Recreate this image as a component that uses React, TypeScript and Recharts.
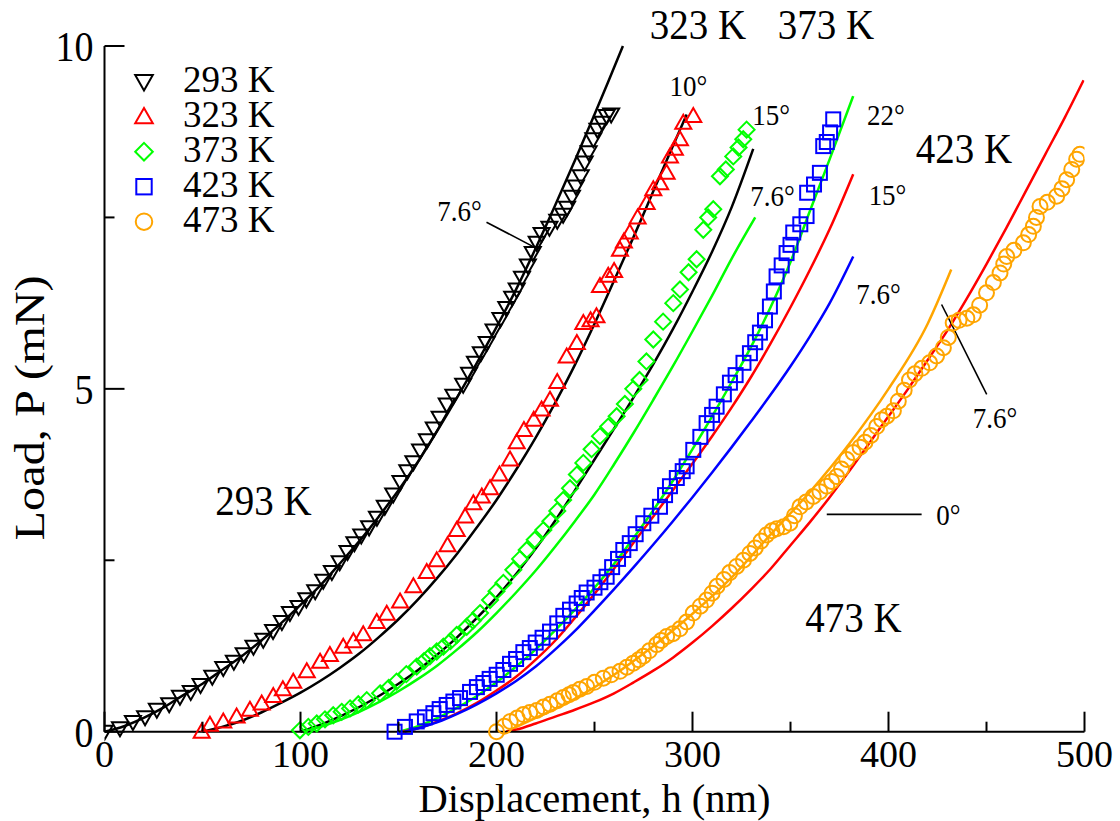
import React from "react";
import {
  ComposedChart,
  Line,
  Scatter,
  XAxis,
  YAxis,
  ReferenceDot,
  ReferenceLine,
  Legend,
} from "recharts";

const FONT = '"Liberation Serif", "Times New Roman", Times, serif';
// the original figure's lettering is a little taller than it is wide
const STRETCH = 1.1;

// [displacement h (nm), load P (mN)]
const tri293: [number, number][] = [
  [0, 0], [7.9, 0.05], [14.5, 0.14], [20.7, 0.21], [26.7, 0.32], [33, 0.4], [38.5, 0.51],
  [44, 0.58], [49, 0.68], [55, 0.8], [60.6, 0.93], [66, 1.02], [71, 1.13], [76, 1.24],
  [81, 1.34], [86, 1.47], [90.5, 1.6], [94.6, 1.73], [99, 1.82], [103, 1.93], [107.5, 2.05],
  [111.6, 2.2], [116, 2.33], [120, 2.47], [124, 2.62], [127.5, 2.75], [131, 2.86], [135, 2.98],
  [139, 3.12], [143, 3.28], [147.3, 3.46], [151, 3.64], [154.5, 3.8], [157.6, 3.93], [161, 4.1],
  [164.5, 4.25], [168, 4.42], [171, 4.58], [174.6, 4.77], [178, 4.9], [183, 5.06], [186, 5.22],
  [189, 5.38], [192, 5.52], [195, 5.67], [198.5, 5.85], [202, 6.02], [205, 6.18], [208, 6.33],
  [210.3, 6.45], [213, 6.62], [216, 6.8], [218.5, 6.98], [220.5, 7.13], [223, 7.26], [227, 7.35],
  [231, 7.45], [234, 7.54], [236, 7.64], [238.5, 7.8], [240.5, 7.95], [243, 8.1], [245, 8.3],
  [247, 8.45], [249.4, 8.64], [251.5, 8.78], [254, 8.88], [256.2, 8.98], [258.5, 9.0],
];
const fit293: [number, number][] = [
  [0, 0], [10, 0.08], [20, 0.2], [30, 0.35], [40, 0.53], [50, 0.7], [60, 0.9], [70, 1.1],
  [80, 1.33], [90, 1.58], [100, 1.85], [110, 2.13], [120, 2.45], [130, 2.78], [140, 3.14],
  [150, 3.52], [160, 3.94], [170, 4.4], [180, 4.88], [190, 5.38], [200, 5.9], [210, 6.45],
  [220, 7.05], [230, 7.68], [240, 8.33], [250, 9.0], [257, 9.48], [264.5, 10.0],
];

const tri323: [number, number][] = [
  [49.6, 0], [53.8, 0.1], [60.6, 0.15], [67.4, 0.22], [74.2, 0.32], [80.2, 0.41], [86.1, 0.52],
  [91, 0.62], [96.3, 0.73], [103.2, 0.88], [110, 1.02], [115, 1.12], [121.8, 1.24], [127, 1.32],
  [132, 1.42], [138.9, 1.6], [144, 1.72], [150.8, 1.9], [157.6, 2.12], [164.4, 2.33], [169.5, 2.5],
  [175, 2.72], [179.7, 2.94], [184, 3.14], [188.2, 3.33], [192.5, 3.43], [196.7, 3.55],
  [201.5, 3.75], [206.9, 3.97], [210.3, 4.22], [214, 4.4], [219, 4.55], [223, 4.7], [227.3, 4.84],
  [231, 5.1], [235.8, 5.47], [241, 5.67], [244.3, 5.96], [248, 6.0], [251, 6.06], [252.8, 6.5],
  [257, 6.65], [260, 6.72], [263, 7.03], [265, 7.15], [268, 7.28], [272, 7.5], [276.6, 7.71],
  [280, 7.91], [283.5, 8.0], [286.8, 8.15], [288.5, 8.39], [291, 8.5], [293.6, 8.64],
  [295.3, 8.88], [300.4, 8.98],
];
const fit323: [number, number][] = [
  [50, 0], [60, 0.07], [70, 0.16], [80, 0.28], [90, 0.42], [100, 0.57], [110, 0.74], [120, 0.93],
  [130, 1.14], [140, 1.38], [150, 1.64], [160, 1.93], [170, 2.25], [180, 2.6], [190, 2.98],
  [200, 3.38], [210, 3.82], [220, 4.29], [230, 4.8], [240, 5.35], [250, 5.95], [260, 6.58],
  [270, 7.22], [280, 7.88], [290, 8.54], [297, 9.0],
];

const dia373: [number, number][] = [
  [99.7, 0.02], [104, 0.07], [108.3, 0.12], [112.5, 0.18], [116.7, 0.24], [121, 0.29],
  [125.3, 0.34], [129.5, 0.4], [133.8, 0.46], [140.6, 0.56], [145, 0.64], [149, 0.73], [154, 0.84],
  [159.3, 0.95], [163, 1.03], [166, 1.1], [169.5, 1.17], [172.9, 1.24], [176.5, 1.32],
  [179.7, 1.41], [184.8, 1.53], [188, 1.62], [191.6, 1.73], [196.7, 1.92], [200, 2.05],
  [203.5, 2.17], [208.6, 2.36], [212, 2.52], [215.4, 2.65], [219.5, 2.8], [223.9, 2.94],
  [227.5, 3.07], [231, 3.22], [234, 3.38], [237.5, 3.55], [241, 3.75], [244.3, 3.92],
  [248.5, 4.12], [252.8, 4.31], [257, 4.45], [261.3, 4.6], [265.5, 4.78], [269.8, 5.0],
  [273, 5.13], [276.5, 5.4], [280, 5.72], [285, 5.98], [290.2, 6.25], [293.6, 6.45], [298, 6.7],
  [302.1, 6.89], [305.5, 7.32], [308, 7.5], [310.6, 7.62], [314, 8.1], [317, 8.2], [320.8, 8.39],
  [323.5, 8.52], [325.9, 8.64], [327.6, 8.78],
];
const fit373Black: [number, number][] = [
  [100, 0], [110, 0.1], [120, 0.22], [130, 0.36], [140, 0.52], [150, 0.7], [160, 0.9],
  [170, 1.13], [180, 1.38], [190, 1.66], [200, 1.96], [210, 2.3], [220, 2.67], [230, 3.08],
  [240, 3.52], [250, 3.97], [260, 4.42], [270, 4.88], [280, 5.36], [290, 5.87], [300, 6.42],
  [310, 7.0], [320, 7.65], [331, 8.5],
];
const fit373Green: [number, number][] = [
  [101, 0], [110, 0.07], [120, 0.17], [130, 0.29], [140, 0.43], [150, 0.59], [160, 0.77],
  [170, 0.97], [180, 1.2], [190, 1.45], [200, 1.73], [210, 2.03], [220, 2.35], [230, 2.7],
  [240, 3.07], [250, 3.46], [260, 3.9], [270, 4.36], [280, 4.84], [290, 5.33], [300, 5.84],
  [310, 6.36], [320, 6.9], [332, 7.5],
];

const sq423: [number, number][] = [
  [148, 0], [153.3, 0.07], [159.3, 0.15], [163.5, 0.21], [167.8, 0.27], [171, 0.33], [174.6, 0.39],
  [178, 0.44], [181.4, 0.49], [186.5, 0.58], [190, 0.65], [193.3, 0.71], [196.5, 0.77],
  [200.1, 0.83], [203.5, 0.9], [206.9, 0.99], [210, 1.06], [213.7, 1.16], [217, 1.22], [220, 1.3],
  [223.5, 1.37], [227.3, 1.46], [231, 1.58], [234.1, 1.69], [237.5, 1.78], [240.9, 1.87],
  [243.5, 1.95], [246, 2.03], [250, 2.1], [253, 2.18], [256.2, 2.26], [259, 2.4], [262, 2.52],
  [264.7, 2.65], [268, 2.75], [271, 2.88], [274.9, 3.04], [279, 3.15], [283.4, 3.28], [286, 3.45],
  [288.5, 3.58], [292, 3.7], [295, 3.8], [297, 3.87], [300.4, 4.11], [304, 4.3], [307.2, 4.5],
  [310, 4.62], [312.3, 4.74], [316, 4.92], [319.1, 5.09], [322, 5.2], [326, 5.38], [329.3, 5.52],
  [332, 5.68], [334.4, 5.82], [337, 6.0], [339.5, 6.2], [341.5, 6.42], [342.9, 6.64],
  [345.5, 6.8], [348, 6.98], [350, 7.1], [351.4, 7.28], [355, 7.4], [358.2, 7.52], [358.5, 7.86],
  [362, 7.98], [365, 8.15], [366.7, 8.54], [368.5, 8.6], [370.2, 8.74], [371.8, 8.93],
];
const fit423Green: [number, number][] = [
  [150, 0], [160, 0.08], [170, 0.2], [180, 0.35], [190, 0.52], [200, 0.72], [210, 0.95],
  [220, 1.2], [230, 1.48], [240, 1.78], [250, 2.1], [260, 2.45], [270, 2.83], [280, 3.23],
  [290, 3.66], [300, 4.12], [310, 4.6], [320, 5.1], [330, 5.62], [340, 6.2], [350, 6.85],
  [360, 7.6], [370, 8.35], [382, 9.27],
];
const fit423Red: [number, number][] = [
  [152, 0], [160, 0.05], [170, 0.15], [180, 0.27], [190, 0.42], [200, 0.6], [210, 0.8],
  [220, 1.05], [230, 1.33], [240, 1.66], [250, 2.01], [260, 2.38], [270, 2.76], [280, 3.14],
  [290, 3.52], [300, 3.91], [310, 4.31], [320, 4.73], [330, 5.18], [340, 5.67], [350, 6.19],
  [360, 6.74], [370, 7.33], [382, 8.13],
];
const fit423Blue: [number, number][] = [
  [153, 0], [160, 0.05], [170, 0.14], [180, 0.26], [190, 0.4], [200, 0.56], [210, 0.74],
  [220, 0.95], [230, 1.2], [240, 1.47], [250, 1.77], [260, 2.08], [270, 2.4], [280, 2.73],
  [290, 3.07], [300, 3.42], [310, 3.78], [320, 4.15], [330, 4.53], [340, 4.92], [350, 5.33],
  [360, 5.77], [370, 6.25], [382, 6.93],
];

const circ473: [number, number][] = [
  [200, 0], [204, 0.08], [207, 0.15], [210.5, 0.2], [213.7, 0.25], [217, 0.28], [220.5, 0.31],
  [224, 0.36], [227.3, 0.4], [231, 0.45], [234.1, 0.5], [237, 0.54], [239.2, 0.57], [242.5, 0.62],
  [246, 0.66], [250, 0.72], [254.5, 0.78], [258.5, 0.83], [263, 0.88], [266.5, 0.94],
  [269.8, 1.0], [272.5, 1.05], [274.9, 1.1], [278, 1.18], [281.7, 1.27], [284, 1.33],
  [286.8, 1.39], [290, 1.43], [293.6, 1.5], [297, 1.6], [300.4, 1.73], [304, 1.83], [307.2, 1.92],
  [310, 2.02], [312.5, 2.12], [316, 2.22], [319, 2.32], [322.5, 2.41], [326, 2.5], [329.3, 2.6],
  [332, 2.68], [335, 2.78], [337.8, 2.87], [340.5, 2.93], [343, 2.96], [346.5, 2.99],
  [349.7, 3.04], [352, 3.15], [354.8, 3.28], [358, 3.35], [361.6, 3.43], [365, 3.5], [368.5, 3.58],
  [371, 3.65], [373.6, 3.72], [376, 3.83], [378.7, 3.97], [382, 4.07], [385.5, 4.15], [388, 4.22],
  [391, 4.32], [394, 4.45], [396.5, 4.55], [399.1, 4.6], [402.5, 4.68], [405, 4.82], [408, 4.98],
  [410.7, 5.13], [413.5, 5.22], [417, 5.3], [421, 5.38], [424.5, 5.48], [428, 5.6], [430.5, 5.75],
  [433, 5.96], [436, 6.0], [440, 6.03], [443.3, 6.08], [446.5, 6.22], [450, 6.4], [453.5, 6.55],
  [456.9, 6.69], [458.8, 6.82], [460.3, 6.93], [464, 7.02], [468.8, 7.13], [471.5, 7.25],
  [473.9, 7.37], [475.5, 7.5], [477.3, 7.66], [481, 7.72], [485.8, 7.81], [488.5, 7.92],
  [490.9, 8.05], [493.5, 8.2], [496, 8.35], [497.7, 8.42],
];
const fit473Red: [number, number][] = [
  [205, 0], [210, 0.03], [220, 0.12], [230, 0.22], [240, 0.32], [250, 0.43], [260, 0.56],
  [270, 0.72], [280, 0.89], [290, 1.08], [300, 1.3], [310, 1.54], [320, 1.8], [330, 2.08],
  [340, 2.38], [350, 2.72], [360, 3.06], [370, 3.42], [380, 3.8], [390, 4.2], [400, 4.6],
  [410, 5.0], [420, 5.42], [430, 5.85], [440, 6.32], [450, 6.82], [460, 7.34], [470, 7.88],
  [480, 8.42], [490, 8.96], [499.5, 9.5],
];
const fit473Orange: [number, number][] = [
  [205, 0], [220, 0.2], [240, 0.48], [260, 0.83], [280, 1.25], [300, 1.72], [320, 2.25],
  [340, 2.88], [360, 3.5], [380, 4.2], [400, 5.0], [420, 5.95], [432, 6.74],
];

const xTicks = [0, 50, 100, 150, 200, 250, 300, 350, 400, 450, 500];
const xLabelled = [0, 100, 200, 300, 400, 500];
const yTicks = [0, 2.5, 5, 7.5, 10];
const yLabelled = [0, 5, 10];

const BLACK = "#000000";
const RED = "#ff0000";
const GREEN = "#00ff00";
const BLUE = "#0000ff";
const ORANGE = "#ffa500";

type Kind = "down" | "up" | "diamond" | "square" | "circle";

const markerSeries: { name: string; color: string; kind: Kind; pts: [number, number][] }[] = [
  { name: "293 K", color: BLACK, kind: "down", pts: tri293 },
  { name: "323 K", color: RED, kind: "up", pts: tri323 },
  { name: "373 K", color: GREEN, kind: "diamond", pts: dia373 },
  { name: "423 K", color: BLUE, kind: "square", pts: sq423 },
  { name: "473 K", color: ORANGE, kind: "circle", pts: circ473 },
];

const fitLines: { id: string; color: string; pts: [number, number][] }[] = [
  { id: "f293", color: BLACK, pts: fit293 },
  { id: "f323", color: BLACK, pts: fit323 },
  { id: "f373k", color: BLACK, pts: fit373Black },
  { id: "f373g", color: GREEN, pts: fit373Green },
  { id: "f423g", color: GREEN, pts: fit423Green },
  { id: "f423r", color: RED, pts: fit423Red },
  { id: "f423b", color: BLUE, pts: fit423Blue },
  { id: "f473o", color: ORANGE, pts: fit473Orange },
  { id: "f473r", color: RED, pts: fit473Red },
];

const bigLabels: { text: string; h: number; P: number }[] = [
  { text: "293 K", h: 81.1, P: 3.37 },
  { text: "323 K", h: 302.8, P: 10.32 },
  { text: "373 K", h: 368.1, P: 10.32 },
  { text: "423 K", h: 438.5, P: 8.51 },
  { text: "473 K", h: 382.1, P: 1.66 },
];

const angleLabels: { text: string; h: number; P: number }[] = [
  { text: "10°", h: 297.9, P: 9.41 },
  { text: "15°", h: 340.1, P: 9.0 },
  { text: "22°", h: 398.7, P: 9.0 },
  { text: "7.6°", h: 340.8, P: 7.81 },
  { text: "15°", h: 399.5, P: 7.83 },
  { text: "7.6°", h: 394.9, P: 6.38 },
  { text: "7.6°", h: 181.1, P: 7.59 },
  { text: "7.6°", h: 454.3, P: 4.58 },
  { text: "0°", h: 430.6, P: 3.16 },
];

const pointers: [number, number, number, number][] = [
  [194.9, 7.43, 219.7, 7.06],
  [427.1, 6.23, 450.1, 4.92],
  [368.5, 3.17, 416.9, 3.17],
];

const rows = (pts: [number, number][]) => pts.map(([h, P]) => ({ h, P }));

// text drawn with its baseline at (x, y), optionally stretched vertically like the original
function SText({ x, y, size, anchor = "start", stretch = STRETCH, children }: any) {
  return (
    <text
      transform={`translate(${x},${y}) scale(1,${stretch})`}
      x={0}
      y={0}
      textAnchor={anchor}
      fontSize={size}
      fontFamily={FONT}
      fill="#000"
    >
      {children}
    </text>
  );
}

function Marker({ kind, cx, cy, color, s = 1 }: { kind: Kind; cx: number; cy: number; color: string; s?: number }) {
  const w = 2;
  if (kind === "down") {
    return (
      <polygon
        points={`${cx - 8 * s},${cy - 6 * s} ${cx + 8 * s},${cy - 6 * s} ${cx},${cy + 8 * s}`}
        fill="none" stroke={color} strokeWidth={w} />
    );
  }
  if (kind === "up") {
    return (
      <polygon
        points={`${cx - 8 * s},${cy + 6 * s} ${cx + 8 * s},${cy + 6 * s} ${cx},${cy - 8 * s}`}
        fill="none" stroke={color} strokeWidth={w} />
    );
  }
  if (kind === "diamond") {
    return (
      <polygon
        points={`${cx},${cy - 8 * s} ${cx + 8 * s},${cy} ${cx},${cy + 8 * s} ${cx - 8 * s},${cy}`}
        fill="none" stroke={color} strokeWidth={w} />
    );
  }
  if (kind === "square") {
    return <rect x={cx - 7 * s} y={cy - 7 * s} width={14 * s} height={14 * s} fill="none" stroke={color} strokeWidth={w} />;
  }
  return <circle cx={cx} cy={cy} r={7.5 * s} fill="none" stroke={color} strokeWidth={w} />;
}

const BottomTick = (p: any) => {
  const v = p.payload.value;
  const major = xLabelled.includes(v);
  return (
    <g>
      <line x1={p.x} x2={p.x} y1={p.y} y2={p.y - (major ? 20 : 10)} stroke="#000" strokeWidth={2} />
      {major && (
        <SText x={p.x} y={p.y + 35.3} size={38} anchor="middle" stretch={1}>
          {v}
        </SText>
      )}
    </g>
  );
};

const TopTick = (p: any) => {
  const major = xLabelled.includes(p.payload.value);
  return <line x1={p.x} x2={p.x} y1={p.y} y2={p.y + (major ? 20 : 10)} stroke="#000" strokeWidth={2} />;
};

const LeftTick = (p: any) => {
  const v = p.payload.value;
  const major = yLabelled.includes(v);
  return (
    <g>
      <line x1={p.x} x2={p.x + (major ? 20 : 10)} y1={p.y} y2={p.y} stroke="#000" strokeWidth={2} />
      {major && (
        <SText x={p.x - 11} y={p.y + 15} size={38} anchor="end">
          {v}
        </SText>
      )}
    </g>
  );
};

const RightTick = (p: any) => {
  const major = yLabelled.includes(p.payload.value);
  return <line x1={p.x} x2={p.x - (major ? 20 : 10)} y1={p.y} y2={p.y} stroke="#000" strokeWidth={2} />;
};

const ROW = 35;

const LegendBox = () => (
  <div style={{ position: "relative", width: 180, height: ROW * markerSeries.length }}>
    <svg
      width={48}
      height={ROW * markerSeries.length}
      style={{ position: "absolute", left: 0, top: 0, overflow: "visible" }}
    >
      {markerSeries.map((s, i) => (
        <Marker key={s.name} kind={s.kind} cx={24} cy={19.7 + ROW * i} color={s.color} s={1.1} />
      ))}
    </svg>
    <div
      style={{
        position: "absolute",
        left: 63,
        top: 0,
        lineHeight: `${ROW}px`,
        fontSize: 37,
        fontFamily: FONT,
        color: "#000",
        whiteSpace: "pre",
      }}
    >
      {markerSeries.map((s) => s.name).join("\n")}
    </div>
  </div>
);

export default function App() {
  const axisLine = { stroke: "#000", strokeWidth: 2 };
  return (
    <div style={{ position: "absolute", left: 0, top: 0, width: 1120, height: 821, background: "#fff" }}>
      <ComposedChart width={1120} height={821} margin={{ top: 46, right: 35.5, bottom: 0, left: 0 }}>
        <XAxis
          xAxisId={0}
          type="number"
          dataKey="h"
          domain={[0, 500]}
          allowDataOverflow
          ticks={xTicks}
          interval={0}
          height={89.3}
          tickSize={0}
          tickMargin={0}
          axisLine={axisLine}
          tickLine={false}
          tick={<BottomTick />}
          label={(lp: any) => {
            const vb = lp.viewBox || { x: 104.5, y: 731.7, width: 980, height: 89.3 };
            return (
              <SText x={vb.x + vb.width / 2} y={vb.y + 80.3} size={40.5} anchor="middle" stretch={1}>
                Displacement, h (nm)
              </SText>
            );
          }}
        />
        <XAxis
          xAxisId="top"
          orientation="top"
          type="number"
          dataKey="h"
          domain={[0, 500]}
          allowDataOverflow
          ticks={xTicks}
          interval={0}
          height={0}
          tickSize={0}
          tickMargin={0}
          axisLine={axisLine}
          tickLine={false}
          tick={<TopTick />}
        />
        <YAxis
          yAxisId={0}
          type="number"
          dataKey="P"
          domain={[0, 10]}
          ticks={yTicks}
          interval={0}
          width={104.5}
          tickSize={0}
          tickMargin={0}
          axisLine={axisLine}
          tickLine={false}
          tick={<LeftTick />}
          label={(lp: any) => {
            const vb = lp.viewBox || { x: 0, y: 46, width: 104.5, height: 685.7 };
            const cx = vb.x + 44;
            const cy = vb.y + vb.height / 2 + 19;
            return (
              <text
                transform={`translate(${cx},${cy}) rotate(-90) scale(1.15,1)`}
                x={0}
                y={0}
                textAnchor="middle"
                fontSize={42}
                fontFamily={FONT}
                fill="#000"
              >
                Load, P (mN)
              </text>
            );
          }}
        />
        <YAxis
          yAxisId="right"
          orientation="right"
          type="number"
          domain={[0, 10]}
          allowDataOverflow
          ticks={yTicks}
          interval={0}
          width={0}
          tickSize={0}
          tickMargin={0}
          axisLine={axisLine}
          tickLine={false}
          tick={<RightTick />}
        />

        {markerSeries.map((s) => (
          <Scatter
            key={s.name}
            name={s.name}
            data={rows(s.pts)}
            dataKey="P"
            fill="none"
            isAnimationActive={false}
            shape={(p: any) => <Marker kind={s.kind} cx={p.cx} cy={p.cy} color={s.color} />}
          />
        ))}

        {fitLines.map((l) => (
          <Line
            key={l.id}
            data={rows(l.pts)}
            dataKey="P"
            type="monotone"
            stroke={l.color}
            strokeWidth={2.5}
            dot={false}
            activeDot={false}
            legendType="none"
            isAnimationActive={false}
          />
        ))}

        {pointers.map(([h1, p1, h2, p2], i) => (
          <ReferenceLine
            key={"ptr" + i}
            segment={[{ x: h1, y: p1 }, { x: h2, y: p2 }]}
            stroke="#000"
            strokeWidth={1.6}
            ifOverflow="visible"
          />
        ))}

        {bigLabels.map((a) => (
          <ReferenceDot
            key={a.text}
            x={a.h}
            y={a.P}
            r={0}
            ifOverflow="visible"
            shape={(p: any) => (
              <SText x={p.cx} y={p.cy + 14.5} size={39} anchor="middle">
                {a.text}
              </SText>
            )}
          />
        ))}

        {angleLabels.map((a, i) => (
          <ReferenceDot
            key={"ang" + i}
            x={a.h}
            y={a.P}
            r={0}
            ifOverflow="visible"
            shape={(p: any) => (
              <SText x={p.cx} y={p.cy + 10} size={27} anchor="middle">
                {a.text}
              </SText>
            )}
          />
        ))}

        <Legend
          layout="horizontal"
          verticalAlign="middle"
          align="center"
          content={() => <LegendBox />}
          wrapperStyle={{ left: 120, top: 62, width: 180, height: ROW * 5 }}
        />
      </ComposedChart>
    </div>
  );
}
